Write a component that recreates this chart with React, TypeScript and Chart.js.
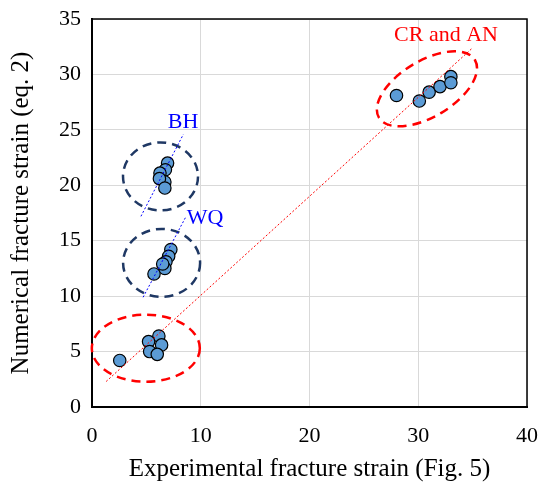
import React, { useEffect, useRef } from "react";
import { Chart, registerables } from "chart.js";

Chart.register(...registerables);

// Measured strains (x: experimental, y: numerical eq. 2)
const crX = [28.0, 30.1, 31.0, 32.0, 33.0, 33.0];
const crY = [28.1, 27.6, 28.4, 28.9, 29.8, 29.25];
const bhX = [6.95, 6.75, 6.25, 6.7, 6.2, 6.7];
const bhY = [22.0, 21.4, 21.1, 20.3, 20.6, 19.75];
const wqX = [7.25, 7.05, 6.8, 6.7, 6.5, 5.7];
const wqY = [14.2, 13.6, 13.1, 12.5, 12.9, 12.0];
const lowX = [2.55, 6.15, 5.2, 6.4, 5.3, 6.0];
const lowY = [4.2, 6.4, 5.9, 5.6, 5.0, 4.75];

// Trend lines (end points)
const allFitX = [1.3, 35.0];
const allFitY = [2.3, 32.4];
const bhFitX = [4.5, 8.4];
const bhFitY = [17.2, 24.6];
const wqFitX = [4.7, 8.6];
const wqFitY = [9.9, 17.1];

const xTicks = [0, 10, 20, 30, 40];
const yTicks = [0, 5, 10, 15, 20, 25, 30, 35];

// Group outlines: centre (data units), semi-axes (px), rotation (deg), colour
const groupNames = ["CR and AN", "BH", "WQ", ""];
const groupCx = [30.8, 6.3, 6.4, 4.95];
const groupCy = [28.7, 20.8, 13.0, 5.3];
const groupRx = [56, 37.5, 38.5, 54];
const groupRy = [28, 34, 34, 33.5];
const groupRot = [-31, 0, 0, 0];
const groupColor = ["#ff0000", "#1f3864", "#1f3864", "#ff0000"];
const labelX = [32.55, 8.37, 10.39, 0];
const labelY = [33.5, 25.7, 17.0, 0];
const labelColor = ["#ff0000", "#0000ff", "#0000ff", "#ff0000"];

const serif = "'Liberation Serif', 'Times New Roman', serif";

const toPts = (xs: number[], ys: number[]) => xs.map((x, i) => ({ x, y: ys[i] }));

const groupsPlugin = {
  id: "groups",
  beforeDatasetsDraw(chart: any) {
    const { ctx, scales } = chart;
    const xs = scales.x;
    const ys = scales.y;
    ctx.save();
    for (let i = 0; i < groupCx.length; i++) {
      const cx = xs.getPixelForValue(groupCx[i]);
      const cy = ys.getPixelForValue(groupCy[i]);
      ctx.beginPath();
      ctx.ellipse(cx, cy, groupRx[i], groupRy[i], (groupRot[i] * Math.PI) / 180, 0, Math.PI * 2);
      ctx.setLineDash([9, 6]);
      ctx.lineWidth = 2.5;
      ctx.strokeStyle = groupColor[i];
      ctx.stroke();
    }
    ctx.restore();
  },
  afterDatasetsDraw(chart: any) {
    const { ctx, scales } = chart;
    ctx.save();
    ctx.font = `22px ${serif}`;
    ctx.textAlign = "center";
    ctx.textBaseline = "middle";
    for (let i = 0; i < groupNames.length; i++) {
      if (!groupNames[i]) continue;
      ctx.fillStyle = labelColor[i];
      ctx.fillText(
        groupNames[i],
        scales.x.getPixelForValue(labelX[i]),
        scales.y.getPixelForValue(labelY[i])
      );
    }
    ctx.restore();
  },
};

export default function App() {
  const ref = useRef<HTMLCanvasElement | null>(null);

  useEffect(() => {
    if (!ref.current) return;
    // Markers sit underneath the dotted trend lines
    const pointStyle = {
      type: "scatter" as const,
      pointRadius: 6.2,
      pointBackgroundColor: "#5b9bd5",
      pointBorderColor: "#000000",
      pointBorderWidth: 1.2,
      showLine: false,
      order: 1,
    };
    const lineStyle = (color: string) => ({
      type: "line" as const,
      borderColor: color,
      borderWidth: 1,
      borderDash: [2, 2],
      pointRadius: 0,
      fill: false,
      order: 0,
    });
    const chart = new Chart(ref.current, {
      type: "scatter",
      data: {
        datasets: [
          { ...pointStyle, label: "CR and AN", data: toPts(crX, crY) },
          { ...pointStyle, label: "BH", data: toPts(bhX, bhY) },
          { ...pointStyle, label: "WQ", data: toPts(wqX, wqY) },
          { ...pointStyle, label: "low", data: toPts(lowX, lowY) },
          { ...lineStyle("#ff0000"), label: "fit", data: toPts(allFitX, allFitY) },
          { ...lineStyle("#0000ff"), label: "BH fit", data: toPts(bhFitX, bhFitY) },
          { ...lineStyle("#0000ff"), label: "WQ fit", data: toPts(wqFitX, wqFitY) },
        ] as any,
      },
      options: {
        animation: false,
        responsive: false,
        devicePixelRatio: 1,
        layout: { padding: { top: 19, right: 12, left: 0, bottom: 0 } },
        plugins: { legend: { display: false }, tooltip: { enabled: false } },
        scales: {
          x: {
            type: "linear",
            min: 0,
            max: 40,
            afterBuildTicks: (s: any) => {
              s.ticks = xTicks.map((v) => ({ value: v }));
            },
            afterFit: (s: any) => {
              s.height = 77;
              s.paddingLeft = 0;
              s.paddingRight = 0;
            },
            grid: { color: "#d9d9d9", lineWidth: 1, drawTicks: false },
            border: { color: "#000000", width: 2 },
            ticks: { color: "#000", font: { family: serif, size: 22 }, padding: 16, maxRotation: 0 },
            title: {
              display: true,
              text: "Experimental fracture strain (Fig. 5)",
              color: "#000",
              font: { family: serif, size: 25 },
              padding: { top: 4, bottom: 0 },
            },
          },
          y: {
            type: "linear",
            min: 0,
            max: 35,
            afterBuildTicks: (s: any) => {
              s.ticks = yTicks.map((v) => ({ value: v }));
            },
            afterFit: (s: any) => {
              s.width = 92;
              s.paddingTop = 0;
              s.paddingBottom = 0;
            },
            grid: { color: "#d9d9d9", lineWidth: 1, drawTicks: false },
            border: { color: "#000000", width: 2 },
            ticks: { color: "#000", font: { family: serif, size: 22 }, padding: 11 },
            title: {
              display: true,
              text: "Numerical fracture strain (eq. 2)",
              color: "#000",
              font: { family: serif, size: 25 },
              padding: { top: 6, bottom: 4 },
            },
          },
        },
      },
      plugins: [
        groupsPlugin,
        {
          id: "frame",
          afterDraw(chart: any) {
            const { ctx, chartArea } = chart;
            ctx.save();
            ctx.strokeStyle = "#000";
            ctx.lineWidth = 1.5;
            ctx.beginPath();
            ctx.moveTo(chartArea.left, chartArea.top);
            ctx.lineTo(chartArea.right, chartArea.top);
            ctx.lineTo(chartArea.right, chartArea.bottom);
            ctx.stroke();
            ctx.restore();
          },
        },
      ],
    });
    return () => chart.destroy();
  }, []);

  return (
    <div style={{ position: "fixed", left: 0, top: 0, width: 539, height: 484, background: "#fff" }}>
      <canvas ref={ref} width={539} height={484} style={{ width: 539, height: 484 }} />
    </div>
  );
}
